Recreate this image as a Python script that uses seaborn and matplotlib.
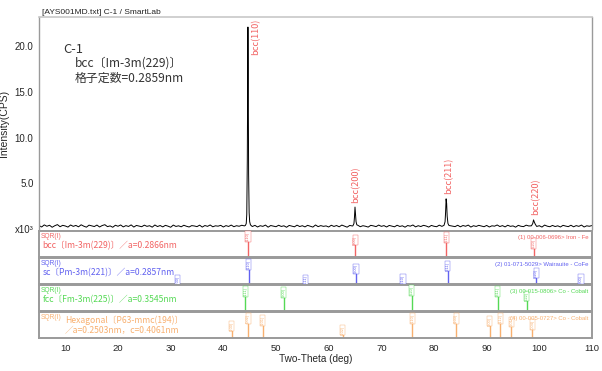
import numpy as np
import matplotlib
matplotlib.use("Agg")
import matplotlib.pyplot as plt
import seaborn as sns

# measured pattern: baseline read every 0.5 deg (5..110), plus points around each peak
base_start, base_step = 5.0, 0.5
base_counts = [
    0.38, 0.22, 0.45, 0.30, 0.41, 0.19, 0.36, 0.48, 0.25, 0.40, 0.33, 0.21, 0.44, 0.29, 0.39, 0.24, 0.46, 0.31, 0.20, 0.42,
    0.35, 0.27, 0.43, 0.22, 0.38, 0.47, 0.26, 0.34, 0.19, 0.41, 0.30, 0.44, 0.23, 0.37, 0.28, 0.45, 0.21, 0.39, 0.32, 0.25,
    0.42, 0.29, 0.36, 0.20, 0.44, 0.27, 0.38, 0.23, 0.40, 0.31, 0.19, 0.43, 0.28, 0.35, 0.24, 0.41, 0.30, 0.22, 0.37, 0.33,
    0.26, 0.42, 0.21, 0.38, 0.29, 0.44, 0.24, 0.35, 0.31, 0.40, 0.22, 0.37, 0.28, 0.43, 0.25, 0.36, 0.30, 0.41, 0.34, 0.45,
    0.33, 0.27, 0.40, 0.22, 0.36, 0.29, 0.43, 0.20, 0.38, 0.31, 0.25, 0.41, 0.28, 0.35, 0.19, 0.39, 0.32, 0.24, 0.42, 0.27,
    0.36, 0.23, 0.40, 0.30, 0.21, 0.44, 0.26, 0.37, 0.29, 0.34, 0.22, 0.41, 0.28, 0.38, 0.24, 0.43, 0.31, 0.20, 0.39, 0.33,
    0.27, 0.42, 0.25, 0.36, 0.30, 0.21, 0.40, 0.34, 0.26, 0.43, 0.29, 0.37, 0.22, 0.39, 0.32, 0.24, 0.41, 0.28, 0.35, 0.20,
    0.38, 0.31, 0.44, 0.23, 0.36, 0.27, 0.40, 0.33, 0.21, 0.39, 0.30, 0.25, 0.42, 0.29, 0.35, 0.22, 0.37, 0.32, 0.26, 0.41,
    0.24, 0.38, 0.30, 0.43, 0.21, 0.36, 0.28, 0.40, 0.33, 0.25, 0.39, 0.22, 0.35, 0.31, 0.44, 0.27, 0.37, 0.23, 0.41, 0.29,
    0.34, 0.20, 0.40, 0.30, 0.26, 0.42, 0.33, 0.23, 0.38, 0.28, 0.36, 0.21, 0.43, 0.31, 0.25, 0.39, 0.27, 0.35, 0.22, 0.40,
    0.32, 0.26, 0.41, 0.24, 0.37, 0.29, 0.43, 0.22, 0.35, 0.30, 0.38,
]

peak_tt = [
    [44.20, 44.35, 44.45, 44.55, 44.62, 44.67, 44.72, 44.80, 44.90, 45.00, 45.15],
    [64.60, 64.80, 64.90, 65.00, 65.10, 65.20, 65.35],
    [81.90, 82.10, 82.20, 82.30, 82.40, 82.50, 82.65, 82.85],
    [98.50, 98.75, 98.90, 99.05, 99.25],
]
peak_counts = [
    [0.40, 0.60, 1.60, 7.50, 17.0, 22.1, 17.5, 6.00, 1.80, 0.80, 0.45],
    [0.35, 0.60, 1.30, 2.40, 1.60, 0.80, 0.45],
    [0.40, 0.80, 1.80, 3.30, 2.80, 1.40, 0.60, 0.38],
    [0.35, 0.60, 1.00, 0.75, 0.50],
]
peak_names = ["bcc(110)", "bcc(200)", "bcc(211)", "bcc(220)"]
peak_label_x = [46.1, 65.2, 82.9, 99.4]
peak_label_y = [19.0, 2.85, 3.8, 1.5]

# reference cards (2theta, relative stick height in panel, hkl)
phase_titles = ["bcc〔Im-3m(229)〕／a=0.2866nm",
                "sc〔Pm-3m(221)〕／a=0.2857nm",
                "fcc〔Fm-3m(225)〕／a=0.3545nm",
                "Hexagonal〔P63-mmc(194)〕\n／a=0.2503nm，c=0.4061nm"]
phase_cards = ["(1) 00-006-0696> Iron - Fe",
               "(2) 01-071-5029> Wairauite - CoFe",
               "(3) 00-015-0806> Co - Cobalt",
               "(4) 00-005-0727> Co - Cobalt"]
phase_colors = ["#f26464", "#6262f0", "#55d955", "#f8b070"]
stick_tt = [
    [44.67, 65.02, 82.33, 98.94],
    [31.3, 44.8, 55.6, 65.2, 74.1, 82.6, 99.4, 107.9],
    [44.2, 51.5, 75.8, 92.1, 97.6],
    [41.6, 44.7, 47.5, 62.7, 75.9, 84.2, 90.6, 92.6, 94.7, 98.7],
]
stick_h = [
    [0.96, 0.83, 0.92, 0.70],
    [0.33, 0.93, 0.33, 0.76, 0.36, 0.87, 0.60, 0.36],
    [0.92, 0.89, 0.96, 0.92, 0.75],
    [0.64, 0.92, 0.86, 0.49, 0.92, 0.92, 0.83, 0.92, 0.80, 0.70],
]
stick_hkl = [
    ["(110)", "(200)", "(211)", "(220)"],
    ["(100)", "(110)", "(111)", "(200)", "(210)", "(211)", "(220)", "(300)"],
    ["(111)", "(200)", "(220)", "(311)", "(222)"],
    ["(100)", "(002)", "(101)", "(102)", "(110)", "(103)", "(200)", "(112)", "(201)", "(004)"],
]

# assemble the pattern
base_tt = base_start + base_step * np.arange(len(base_counts))
keep = np.ones(len(base_tt), bool)
for tt in peak_tt:
    keep &= ~((base_tt > tt[0] - 0.05) & (base_tt < tt[-1] + 0.05))
all_tt = np.concatenate([base_tt[keep]] + [np.array(t) for t in peak_tt])
all_c = np.concatenate([np.array(base_counts)[keep]] + [np.array(c) for c in peak_counts])
order = np.argsort(all_tt)
all_tt, all_c = all_tt[order], all_c[order]

sns.set_style("white")
plt.rcParams['font.family'] = ['Liberation Sans', 'Noto Sans CJK JP', 'DejaVu Sans']
cjk = ['Noto Sans CJK JP', 'DejaVu Sans']
frame = "#9a9a9a"

fig = plt.figure(figsize=(6.02, 3.71), dpi=100)
L, W = 39 / 602, 553 / 602
ax = fig.add_axes([L, 1 - 229 / 371, W, 212 / 371])

sns.lineplot(x=all_tt, y=all_c, ax=ax, color="black", lw=0.7, estimator=None, sort=False)
ax.set_xlim(5, 110)
ax.set_ylim(0, 23.2)
ax.set_yticks([0, 5, 10, 15, 20])
ax.set_yticklabels(["x10³", "5.0", "10.0", "15.0", "20.0"])
ax.set_xticks([])
ax.tick_params(axis="y", direction="out", length=3, width=0.6, color="#555555", labelsize=7, pad=1)
ax.set_ylabel("Intensity(CPS)", fontsize=7.5, labelpad=4)
for s in ["left", "right"]:
    ax.spines[s].set_color(frame)
    ax.spines[s].set_linewidth(1.0)
ax.spines["top"].set_color("#c8c8c8")
ax.spines["top"].set_linewidth(1.2)
ax.spines["bottom"].set_visible(False)

for name, px, py in zip(peak_names, peak_label_x, peak_label_y):
    ax.text(px, py, name, rotation=90, ha="center", va="bottom", fontsize=6.6,
            color="#f26464", family=cjk)

ax.text(0.043, 0.83, "C-1", transform=ax.transAxes, fontsize=9.3, color="#333333", family=cjk)
ax.text(0.065, 0.765, "bcc〔Im-3m(229)〕", transform=ax.transAxes, fontsize=8.6,
        color="#333333", family=cjk)
ax.text(0.065, 0.695, "格子定数=0.2859nm", transform=ax.transAxes, fontsize=8.6,
        color="#333333", family=cjk)
fig.text(42 / 602, 1 - 14 / 371, "[AYS001MD.txt] C-1 / SmartLab", fontsize=6, color="#222222")

panel_tops = [231, 258, 285, 312]
panels = []
for i, top in enumerate(panel_tops):
    pax = fig.add_axes([L, 1 - (top + 26) / 371, W, 26 / 371])
    panels.append(pax)
    col = phase_colors[i]
    pax.vlines(stick_tt[i], 0, stick_h[i], color=col, lw=1.0)
    for x, h, hkl in zip(stick_tt[i], stick_h[i], stick_hkl[i]):
        pax.text(x, h, hkl, rotation=90, ha="center", va="top", fontsize=2.8, color=col,
                 bbox=dict(boxstyle="square,pad=0.15", fc="white", ec=col, lw=0.3))
    pax.set_xlim(5, 110)
    pax.set_ylim(0, 1)
    pax.set_yticks([])
    for s in pax.spines.values():
        s.set_color(frame)
        s.set_linewidth(1.4)
    pax.text(0.004, 0.93, "SQR(I)", transform=pax.transAxes, fontsize=4.8, color=col,
             va="top", ha="left")
    pax.text(0.993, 0.86, phase_cards[i], transform=pax.transAxes, fontsize=4.3, color=col,
             va="top", ha="right", zorder=5)
    if i < 3:
        pax.text(0.006, 0.42, phase_titles[i], transform=pax.transAxes, fontsize=6.2,
                 color=col, va="center", ha="left", family=cjk)
        pax.set_xticks([])
    else:
        pax.text(0.047, 0.48, phase_titles[i], transform=pax.transAxes, fontsize=6.2,
                 color=col, va="center", ha="left", family=cjk, linespacing=1.15)

bot = panels[-1]
bot.set_xticks(np.arange(10, 111, 10))
bot.set_xticks(np.arange(5, 111, 10), minor=True)
bot.tick_params(axis="x", which="both", direction="out", length=3, width=0.6,
                color="#555555", labelsize=6.8, pad=1)
bot.set_xlabel("Two-Theta (deg)", fontsize=7.2, labelpad=1)

fig.savefig("out.png", dpi=100)
